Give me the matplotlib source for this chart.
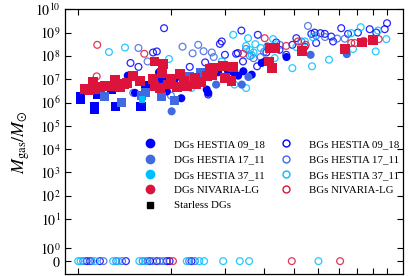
import numpy as np
import matplotlib
matplotlib.use("Agg")
import matplotlib.pyplot as plt
from matplotlib.lines import Line2D

plt.rcParams['font.family'] = 'serif'
plt.rcParams['font.serif'] = ['Liberation Serif', 'DejaVu Serif']
plt.rcParams['mathtext.fontset'] = 'stix'

# colours of the simulations
c_0918 = '#0000ff'
c_1711 = '#4169e1'
c_3711 = '#00bfff'
c_niv = '#dc143c'

# DGs with stars (filled circles)
dg0918_x = [1.45, 1.53, 1.67, 1.71, 1.83, 1.83, 1.91, 1.94, 2.06, 2.16, 2.61, 2.64,
            2.81, 2.84, 3.06, 3.18, 3.30, 3.43, 3.65, 3.93, 4.03, 4.73]
dg0918_m = [1.43e7, 2.6e6, 5.3e6, 4.7e6, 2.0e7, 8.1e6, 1.25e7, 3.0e6, 1.03e7, 1.53e6, 3.6e6, 2.6e6,
            2.2e7, 2.0e7, 2.2e7, 2.0e7, 1.43e7, 2.2e7, 1.57e7, 5.0e7, 5.8e7, 9.0e7]
dg1711_x = [2.01, 2.80, 3.39, 3.56, 5.66, 7.41]
dg1711_m = [4.2e5, 5.9e6, 5.9e6, 1.25e7, 1.12e8, 1.2e8]

# starless DGs (filled squares)
sl0918_x = [1.02, 1.02, 1.13, 1.13, 1.16, 1.28, 1.32, 1.60, 1.66]
sl0918_m = [1.86e6, 1.34e6, 7.0e5, 5.0e5, 2.2e6, 3.8e6, 7.0e5, 7.0e5, 5.5e6]
sl1711_x = [1.22, 1.38, 1.61, 1.65, 1.87, 2.06, 2.50, 2.30]
sl1711_m = [1.75e6, 1.03e6, 2.0e6, 2.6e6, 1.86e6, 1.22e6, 1.86e7, 1.33e7]
sl3711_x = [1.61]
sl3711_m = [1.34e6]
slniv_x = [1.05, 1.085, 1.12, 1.135, 1.18, 1.22, 1.27, 1.32, 1.32, 1.37, 1.41, 1.44,
           1.51, 1.59, 1.75, 1.77, 1.77, 1.84, 1.87, 1.89, 1.96, 2.0, 2.09, 2.14,
           2.21, 2.26, 2.39, 2.42, 2.51, 2.61, 2.67, 2.74, 2.71, 2.95, 2.99, 3.14,
           3.18, 4.17, 4.33, 4.15, 4.25, 5.32, 7.3, 8.32, 9.01]
slniv_m = [3.8e6, 3.3e6, 7.4e6, 3.6e6, 4.7e6, 5.3e6, 5.3e6, 9.6e6, 6.5e6, 4.7e6, 6.5e6, 7.0e6,
           1.33e7, 8.1e6, 1.03e7, 5.8e7, 5.0e6, 4.2e6, 1.86e7, 4.6e7, 5.9e6, 1.03e7, 4.7e6, 1.73e7,
           8.1e6, 5.3e6, 1.14e7, 6.5e6, 7.4e6, 1.33e7, 2.75e7, 3.0e7, 1.57e7, 3.8e7, 1.14e7, 8.1e6,
           3.4e7, 2.2e8, 2.2e8, 5.8e7, 3.0e7, 1.67e8, 1.97e8, 3.8e8, 4.9e8]

# BGs (open circles)
bg0918_x = [1.90, 1.75, 1.80, 1.48, 1.57, 2.30, 2.88, 2.92, 2.99, 2.58, 2.64, 3.38,
            3.82, 3.29, 3.42, 4.07, 4.38, 5.09, 5.69, 5.83, 6.09, 6.29, 6.60, 6.69,
            7.11, 7.48, 8.05, 8.79, 9.23, 9.83, 10.0, 5.90, 5.42, 4.94, 4.72, 4.49,
            3.80, 3.25]
bg0918_m = [1.56e9, 1.41e8, 1.56e8, 5.0e7, 3.4e7, 3.4e7, 3.3e8, 4.2e8, 1.12e8, 5.3e7, 2.2e6, 1.23e9,
            8.1e8, 1.33e8, 5.8e7, 1.41e8, 3.8e8, 5.8e8, 8.9e8, 1.01e9, 9.5e8, 8.9e8, 6.8e8, 4.2e8,
            1.56e9, 8.9e8, 1.01e9, 1.41e9, 1.01e9, 1.41e9, 2.55e9, 3.6e8, 2.5e8, 3.0e8, 1.12e8, 1.84e8,
            3.6e7, 1.24e8]
bg1711_x = [1.57, 2.18, 2.45, 2.71, 1.68, 1.51, 2.0, 1.45, 5.55, 5.28, 4.0, 3.7,
            3.5, 3.6, 4.1, 4.5, 3.9, 6.3, 7.3, 8.4, 9.0, 5.9, 6.9, 2.35, 2.55, 2.75]
bg1711_m = [2.2e8, 2.5e8, 3.0e8, 1.41e8, 5.8e7, 2.6e6, 2.0e6, 7.4e6, 1.95e9, 4.2e8, 1.5e8, 8e7,
            2.0e8, 1.0e8, 2.6e8, 3.0e8, 9e7, 6.5e8, 5.5e8, 4.5e8, 5.5e8, 7.5e8, 5.6e8, 1.3e8, 1.6e8, 9e7]
bg3711_x = [1.26, 1.42, 1.97, 2.92, 3.18, 2.33, 1.87, 3.55, 4.28, 5.09, 5.42, 5.76,
            6.49, 4.94, 5.72, 7.66, 8.22, 7.76, 9.19, 9.95, 9.35, 4.33, 3.50, 3.21,
            3.5, 3.6, 3.7, 3.75, 3.9, 3.65]
bg3711_m = [1.47e8, 2.3e8, 7.4e7, 5.8e7, 8.1e8, 4.2e6, 4.2e7, 5.8e8, 5.3e8, 2.4e8, 4.2e8, 6.4e8,
            6.9e7, 3.0e7, 3.6e7, 9.5e8, 1.72e9, 2.0e8, 1.56e8, 5.3e8, 1.23e9, 8.1e7, 4.2e6, 5.9e6,
            2.7e8, 1.8e8, 1.4e8, 3.2e8, 2.2e8, 1.1e8]
bgniv_x = [1.155, 1.15, 1.64, 4.02, 3.42, 4.72, 5.15, 5.46, 7.66, 7.86, 9.40]
bgniv_m = [3.0e8, 1.33e7, 1.24e8, 5.8e8, 1.24e8, 2.7e8, 4.2e8, 3.0e8, 3.6e8, 3.6e8, 5.3e8]

# BGs without gas (M_gas = 0)
zero0918_x = [1.067, 1.094, 1.178, 1.43, 1.71, 1.80, 1.94, 1.98, 2.33]
zero1711_x = [1.04, 1.107, 1.21, 1.33, 1.39, 1.62, 1.68, 1.75, 1.84, 1.89, 2.29, 2.39]
zero3711_x = [1.002, 1.02, 1.135, 1.30, 1.35, 1.58, 1.65, 2.25, 2.47, 2.56, 2.95, 3.34, 3.58, 6.0]
zeroniv_x = [2.03, 4.92, 7.05]

fig = plt.figure(figsize=(4.19, 2.76), dpi=100)
ax = fig.add_axes([0.155, 0.007, 0.807, 0.959])

ms_o = 24
lw_o = 0.9
for xs, ms, zx, c in [(bg0918_x, bg0918_m, zero0918_x, c_0918),
                      (bg1711_x, bg1711_m, zero1711_x, c_1711),
                      (bg3711_x, bg3711_m, zero3711_x, c_3711),
                      (bgniv_x, bgniv_m, zeroniv_x, c_niv)]:
    ax.scatter(xs, ms, s=ms_o, facecolors='none', edgecolors=c, linewidths=lw_o, alpha=0.85)
    ax.scatter(zx, np.zeros(len(zx)), s=ms_o, facecolors='none', edgecolors=c, linewidths=lw_o, alpha=0.85)

ax.scatter(dg0918_x, dg0918_m, s=34, color=c_0918, edgecolors='none')
ax.scatter(dg1711_x, dg1711_m, s=34, color=c_1711, edgecolors='none')
ax.scatter(sl0918_x, sl0918_m, s=42, marker='s', color=c_0918, edgecolors='none')
ax.scatter(sl1711_x, sl1711_m, s=42, marker='s', color=c_1711, edgecolors='none')
ax.scatter(sl3711_x, sl3711_m, s=20, marker='s', color=c_3711, edgecolors='none')
ax.scatter(slniv_x, slniv_m, s=50, marker='s', color=c_niv, edgecolors='none')

ax.set_xscale('log')
ax.set_yscale('symlog', linthresh=2, linscale=1)
ax.set_xlim(0.908, 11.27)
ax.set_ylim(-1, 1e10)

yt = [0] + [10.0**k for k in range(11)]
ax.set_yticks(yt)
ax.set_yticklabels(['$0$'] + ['$10^{%d}$' % k for k in range(11)])
ax.yaxis.set_minor_locator(matplotlib.ticker.NullLocator())
ax.set_xticks([float(k) for k in range(1, 11)])
ax.xaxis.set_minor_locator(matplotlib.ticker.NullLocator())
ax.set_xticklabels([])
ax.tick_params(which='both', direction='in', top=True, right=True, length=4, width=0.8,
               labelsize=10, pad=3)
ax.set_ylabel(r'$M_{\rm gas}/M_{\odot}$', fontsize=13, labelpad=2)
for s in ax.spines.values():
    s.set_linewidth(0.9)

handles = [
    Line2D([], [], ls='none', marker='o', color=c_0918, ms=6),
    Line2D([], [], ls='none', marker='o', color=c_1711, ms=6),
    Line2D([], [], ls='none', marker='o', color=c_3711, ms=6),
    Line2D([], [], ls='none', marker='o', color=c_niv, ms=6),
    Line2D([], [], ls='none', marker='s', color='black', ms=5),
    Line2D([], [], ls='none', marker='o', mfc='none', mec=c_0918, ms=5, mew=1),
    Line2D([], [], ls='none', marker='o', mfc='none', mec=c_1711, ms=5, mew=1),
    Line2D([], [], ls='none', marker='o', mfc='none', mec=c_3711, ms=5, mew=1),
    Line2D([], [], ls='none', marker='o', mfc='none', mec=c_niv, ms=5, mew=1),
]
labels = ['DGs HESTIA 09_18', 'DGs HESTIA 17_11', 'DGs HESTIA 37_11', 'DGs NIVARIA-LG',
          'Starless DGs', 'BGs HESTIA 09_18', 'BGs HESTIA 17_11', 'BGs HESTIA 37_11',
          'BGs NIVARIA-LG']
ax.legend(handles, labels, ncol=2, frameon=False, fontsize=7.8, loc='upper left',
          bbox_to_anchor=(0.2, 0.545), handletextpad=1.4, columnspacing=1.2,
          labelspacing=0.53, handlelength=1.5)

fig.savefig('out.png', dpi=100)
